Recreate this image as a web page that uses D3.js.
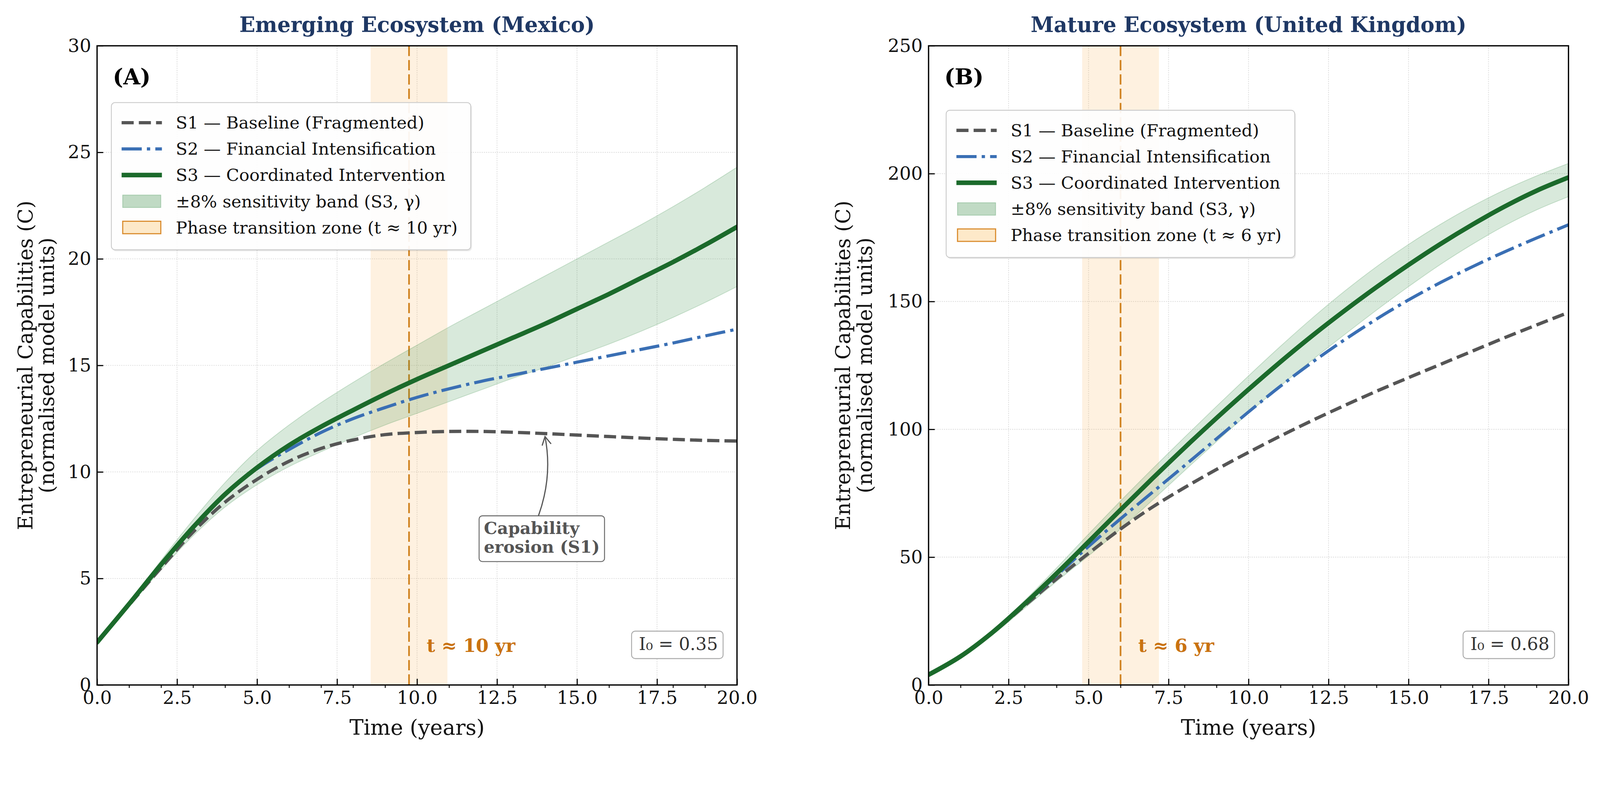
<!DOCTYPE html>
<html><head><meta charset="utf-8">
<script src="https://cdn.jsdelivr.net/npm/d3@7/dist/d3.min.js"></script>
<style>
html,body{margin:0;padding:0;background:#fff;overflow:hidden}
svg{display:block;width:100vw;height:100vh}
text{font-family:"DejaVu Serif",serif}
</style></head>
<body>
<svg id="chart" viewBox="0 0 4368 2048" preserveAspectRatio="xMidYMin meet"></svg>
<script>
// ---------------- data ----------------
const YEARS = [0,1,2,3,4,5,6,7,8,9,10,11,12,13,14,15,16,17,18,19,20];

const S1_MEX = [2.0,3.75,5.5,7.18,8.58,9.65,10.5,11.1,11.5,11.75,11.85,11.9,11.9,11.86,11.8,11.73,11.66,11.59,11.53,11.48,11.45];
const S2_MEX = [2.0,3.8,5.65,7.4,8.95,10.15,11.05,11.85,12.5,13.02,13.5,13.9,14.25,14.55,14.85,15.15,15.45,15.75,16.05,16.38,16.7];
const S3_MEX = [2.0,3.8,5.65,7.4,8.95,10.2,11.25,12.12,12.9,13.65,14.35,15.0,15.65,16.3,16.95,17.65,18.35,19.1,19.85,20.65,21.5];
const S3_HI_MEX = [2.0,3.85,5.85,7.75,9.5,11.0,12.2,13.25,14.2,15.1,15.95,16.8,17.6,18.4,19.2,20.0,20.8,21.6,22.45,23.35,24.3];
const S3_LO_MEX = [2.0,3.7,5.4,7.0,8.35,9.4,10.25,10.95,11.6,12.2,12.75,13.3,13.85,14.4,14.9,15.45,16.0,16.6,17.25,17.95,18.7];

const S1_UK = [4,11.0,20.4,31.0,41.5,51.5,61.0,69.6,77.2,84.3,91.0,97.4,103.5,109.3,114.9,120.2,125.4,130.6,135.8,140.8,145.7];
const S2_UK = [4,11.1,20.5,31.4,42.8,54.2,65.0,75.4,85.8,96.3,106.8,116.9,126.3,135.0,143.1,150.6,157.4,163.6,169.4,174.8,180.0];
const S3_UK = [4,11.2,20.6,31.7,43.6,56.0,68.5,80.8,92.8,104.4,115.6,126.4,136.7,146.4,155.6,164.3,172.5,180.1,187.1,193.3,198.5];
const S3_HI_UK = [4,11.5,21.4,33.0,45.8,59.0,72.0,84.6,96.9,109.0,120.9,132.5,143.6,154.0,163.6,172.3,180.2,187.3,193.6,199.1,204.0];
const S3_LO_UK = [4,10.9,19.6,30.0,40.5,50.5,61.0,72.3,83.8,95.2,106.3,117.0,127.2,137.0,146.6,155.8,164.5,172.4,179.6,185.8,191.0];

const X_TICKS = [0,2.5,5,7.5,10,12.5,15,17.5,20];
const X_MINOR = [1,2,3,4,6,7,8,9,11,12,13,14,16,17,18,19];
const Y_TICKS_MEX = [0,5,10,15,20,25,30];
const Y_TICKS_UK = [0,50,100,150,200,250];

const TITLES = ["Emerging Ecosystem (Mexico)","Mature Ecosystem (United Kingdom)"];
const PANEL_TAGS = ["(A)","(B)"];
const SERIES_LABELS = ["S1 \u2014 Baseline (Fragmented)","S2 \u2014 Financial Intensification","S3 \u2014 Coordinated Intervention","\u00b18% sensitivity band (S3, \u03b3)"];
const ZONE_LABELS = ["Phase transition zone (t \u2248 10 yr)","Phase transition zone (t \u2248 6 yr)"];
const ZONE_CENTER = [9.75, 6.0];
const ZONE_HALF = [1.2, 1.2];
const ZONE_TEXT = ["t \u2248 10 yr","t \u2248 6 yr"];
const I0_TEXT = ["I\u2080 = 0.35","I\u2080 = 0.68"];
const Y_LABEL = ["Entrepreneurial Capabilities (C)","(normalised model units)"];
const X_LABEL = "Time (years)";
const ANNOT_LINES = ["Capability","erosion (S1)"];
const ANNOT_TIP = [14.0, 11.66];
const ANNOT_BOX = [11.94, 7.94];

// ---------------- style ----------------
const C_S1 = "#555555", C_S2 = "#3a6fb4", C_S3 = "#1b6a2b";
const C_BAND = "#3d8f4c", C_ZONE = "#f8ab3c", C_ZONE_LINE = "#d0821f", C_ZONE_TXT = "#c97210";
const C_TITLE = "#1f3864";
const FONT = '"DejaVu Serif", serif';

const svg = d3.select("#chart");
const TOP = 125, BOTTOM = 1870, W = 1747;

const panels = [
  {left:265, s1:S1_MEX, s2:S2_MEX, s3:S3_MEX, hi:S3_HI_MEX, lo:S3_LO_MEX, ymax:30, yticks:Y_TICKS_MEX,
   legend:{x:304,y:280}, ylab:[177,118], annot:true},
  {left:2535, s1:S1_UK, s2:S2_UK, s3:S3_UK, hi:S3_HI_UK, lo:S3_LO_UK, ymax:250, yticks:Y_TICKS_UK,
   legend:{x:2583,y:301}, ylab:[214,155], annot:false}
];

const defs = svg.append("defs");
const curve = d3.curveCatmullRom.alpha(0.5);

panels.forEach((p,i)=>{
  const L = p.left, R = p.left + W;
  const x = d3.scaleLinear().domain([0,20]).range([L,R]);
  const y = d3.scaleLinear().domain([0,p.ymax]).range([BOTTOM,TOP]);
  const g = svg.append("g");

  defs.append("clipPath").attr("id","clip"+i).append("rect")
    .attr("x",L).attr("y",TOP).attr("width",W).attr("height",BOTTOM-TOP);

  // grid
  const grid = g.append("g").attr("stroke","#cfcfcf").attr("stroke-width",2).attr("stroke-dasharray","3,3").attr("opacity",0.75);
  X_TICKS.forEach(t=>grid.append("line").attr("x1",x(t)).attr("x2",x(t)).attr("y1",TOP).attr("y2",BOTTOM));
  p.yticks.forEach(v=>grid.append("line").attr("x1",L).attr("x2",R).attr("y1",y(v)).attr("y2",y(v)));

  const plot = g.append("g").attr("clip-path",`url(#clip${i})`);
  // phase zone
  plot.append("rect").attr("x",x(ZONE_CENTER[i]-ZONE_HALF[i])).attr("width",x(ZONE_CENTER[i]+ZONE_HALF[i])-x(ZONE_CENTER[i]-ZONE_HALF[i]))
    .attr("y",TOP).attr("height",BOTTOM-TOP).attr("fill",C_ZONE).attr("opacity",0.16);
  plot.append("line").attr("x1",x(ZONE_CENTER[i])).attr("x2",x(ZONE_CENTER[i])).attr("y1",TOP).attr("y2",BOTTOM)
    .attr("stroke",C_ZONE_LINE).attr("stroke-width",4.5).attr("stroke-dasharray","28,11");

  // band
  const band = YEARS.map((t,k)=>({t, lo:p.lo[k], hi:p.hi[k]}));
  const area = d3.area().x(d=>x(d.t)).y0(d=>y(d.lo)).y1(d=>y(d.hi)).curve(curve);
  plot.append("path").attr("d",area(band)).attr("fill",C_BAND).attr("fill-opacity",0.2)
    .attr("stroke",C_BAND).attr("stroke-opacity",0.25).attr("stroke-width",2);

  const line = d3.line().x(d=>x(d[0])).y(d=>y(d[1])).curve(curve);
  const pts = arr => YEARS.map((t,k)=>[t,arr[k]]);
  plot.append("path").attr("d",line(pts(p.s1))).attr("fill","none").attr("stroke",C_S1).attr("stroke-width",9).attr("stroke-dasharray","33,14");
  plot.append("path").attr("d",line(pts(p.s2))).attr("fill","none").attr("stroke",C_S2).attr("stroke-width",8.5).attr("stroke-dasharray","55,14,9,14");
  plot.append("path").attr("d",line(pts(p.s3))).attr("fill","none").attr("stroke",C_S3).attr("stroke-width",12.5).attr("stroke-linecap","round");

  // zone text
  g.append("text").attr("x",x(ZONE_CENTER[i]+0.55)).attr("y",1780).attr("font-size",50).attr("font-weight","bold")
    .attr("fill",C_ZONE_TXT).text(ZONE_TEXT[i]);

  // annotation
  if(p.annot){
    const bx = x(ANNOT_BOX[0]), by = y(ANNOT_BOX[1]);
    const at = g.append("g");
    const txt = at.append("text").attr("font-size",46).attr("font-weight","bold").attr("fill","#555");
    ANNOT_LINES.forEach((s,k)=>txt.append("tspan").attr("x",bx+13).attr("y",by+50+k*51).text(s));
    const bb = txt.node().getBBox();
    at.insert("rect","text").attr("x",bx).attr("y",by).attr("width",bb.width+26).attr("height",125)
      .attr("rx",9).attr("fill","#fff").attr("stroke","#666").attr("stroke-width",2.5);
    const sx = bx + 162, sy = by;
    const tx = x(ANNOT_TIP[0]), ty = y(ANNOT_TIP[1]);
    const cx = (sx+tx)/2 + 30, cy = (sy+ty)/2;
    at.append("path").attr("d",`M${sx},${sy} Q${cx},${cy} ${tx},${ty}`).attr("fill","none").attr("stroke","#555").attr("stroke-width",3.2);
    const ang = Math.atan2(ty-cy, tx-cx);
    const hl = 26, ha = 0.5;
    const w1 = [tx - hl*Math.cos(ang-ha), ty - hl*Math.sin(ang-ha)];
    const w2 = [tx - hl*Math.cos(ang+ha), ty - hl*Math.sin(ang+ha)];
    at.append("path").attr("d",`M${w1[0]},${w1[1]} L${tx},${ty} L${w2[0]},${w2[1]}`).attr("fill","none")
      .attr("stroke","#555").attr("stroke-width",3.2).attr("stroke-linejoin","miter");
  }

  // I0 box
  const ib = g.append("g");
  const it = ib.append("text").attr("x",R-52).attr("y",1775).attr("text-anchor","end").attr("font-size",48).attr("fill","#333").text(I0_TEXT[i]);
  const ibb = it.node().getBBox();
  ib.insert("rect","text").attr("x",ibb.x-20).attr("y",1723).attr("width",ibb.width+34).attr("height",75)
    .attr("rx",10).attr("fill","#fff").attr("stroke","#aaa").attr("stroke-width",2.5);

  // axes
  const xAxis = d3.axisBottom(x).tickValues(X_TICKS).tickFormat(d3.format(".1f")).tickSizeInner(-17).tickSizeOuter(0).tickPadding(16);
  const xm = d3.axisBottom(x).tickValues(X_MINOR).tickFormat("").tickSizeInner(8).tickSizeOuter(0);
  const yAxis = d3.axisLeft(y).tickValues(p.yticks).tickFormat(d3.format("d")).tickSizeInner(-17).tickSizeOuter(0).tickPadding(16);
  const styleAx = sel => { sel.select(".domain").remove(); sel.attr("font-family",FONT).attr("font-size",50);
    sel.selectAll(".tick text").attr("fill","#111"); sel.selectAll(".tick line").attr("stroke","#000").attr("stroke-width",3); };
  g.append("g").attr("transform",`translate(0,${BOTTOM})`).call(xAxis).call(styleAx);
  g.append("g").attr("transform",`translate(0,${BOTTOM})`).call(xm).call(sel=>{sel.select(".domain").remove();sel.selectAll(".tick line").attr("stroke","#000").attr("stroke-width",2.5);});
  g.append("g").attr("transform",`translate(${L},0)`).call(yAxis).call(styleAx);

  // spines
  g.append("rect").attr("x",L).attr("y",TOP).attr("width",W).attr("height",BOTTOM-TOP).attr("fill","none").attr("stroke","#000").attr("stroke-width",3.5);

  // panel tag
  g.append("text").attr("x",L+43).attr("y",230).attr("font-size",60).attr("font-weight","bold").attr("fill","#000").text(PANEL_TAGS[i]);

  // title
  g.append("text").attr("x",(L+R)/2).attr("y",87).attr("text-anchor","middle").attr("font-size",57).attr("font-weight","bold").attr("fill",C_TITLE).text(TITLES[i]);

  // axis labels
  g.append("text").attr("x",(L+R)/2).attr("y",2006).attr("text-anchor","middle").attr("font-size",58).attr("fill","#111").text(X_LABEL);
  const ymid = (TOP+BOTTOM)/2;
  Y_LABEL.forEach((s,k)=>{
    g.append("text").attr("transform",`translate(${L-p.ylab[k]},${ymid}) rotate(-90)`).attr("text-anchor","middle")
      .attr("font-size",55).attr("fill","#111").text(s);
  });

  // legend
  const lg = g.append("g");
  const lx = p.legend.x, ly = p.legend.y;
  const rows = [
    {kind:"line", color:C_S1, w:9, dash:"33,14", label:SERIES_LABELS[0]},
    {kind:"line", color:C_S2, w:8.5, dash:"55,14,9,14", label:SERIES_LABELS[1]},
    {kind:"line", color:C_S3, w:12.5, dash:null, label:SERIES_LABELS[2]},
    {kind:"band", label:SERIES_LABELS[3]},
    {kind:"zone", label:ZONE_LABELS[i]}
  ];
  const shadow = lg.append("rect"), box = lg.append("rect");
  let maxw = 0;
  rows.forEach((r,k)=>{
    const cy = ly + 55 + k*71.5;
    if(r.kind==="line"){
      const ln = lg.append("line").attr("x1",lx+28).attr("x2",lx+138).attr("y1",cy).attr("y2",cy).attr("stroke",r.color).attr("stroke-width",r.w);
      if(r.dash) ln.attr("stroke-dasharray",r.dash);
    } else if(r.kind==="band"){
      lg.append("rect").attr("x",lx+31).attr("y",cy-17).attr("width",104).attr("height",34)
        .attr("fill",C_BAND).attr("fill-opacity",0.32).attr("stroke",C_BAND).attr("stroke-opacity",0.35).attr("stroke-width",2);
    } else {
      lg.append("rect").attr("x",lx+31).attr("y",cy-17).attr("width",104).attr("height",34)
        .attr("fill","#fde9c9").attr("stroke","#d98a2b").attr("stroke-width",3);
    }
    const t = lg.append("text").attr("x",lx+176).attr("y",cy).attr("dy","0.35em").attr("font-size",46.5).attr("fill","#111").text(r.label);
    maxw = Math.max(maxw, t.node().getComputedTextLength());
  });
  const bw = 176 + maxw + 36, bh = 55 + 4*71.5 + 61;
  shadow.attr("x",lx+3).attr("y",ly+4).attr("width",bw).attr("height",bh).attr("rx",10).attr("fill","#000").attr("opacity",0.08);
  box.attr("x",lx).attr("y",ly).attr("width",bw).attr("height",bh).attr("rx",10).attr("fill","#fff").attr("fill-opacity",0.93)
    .attr("stroke","#cccccc").attr("stroke-width",2.5);
});
</script>
</body></html>
